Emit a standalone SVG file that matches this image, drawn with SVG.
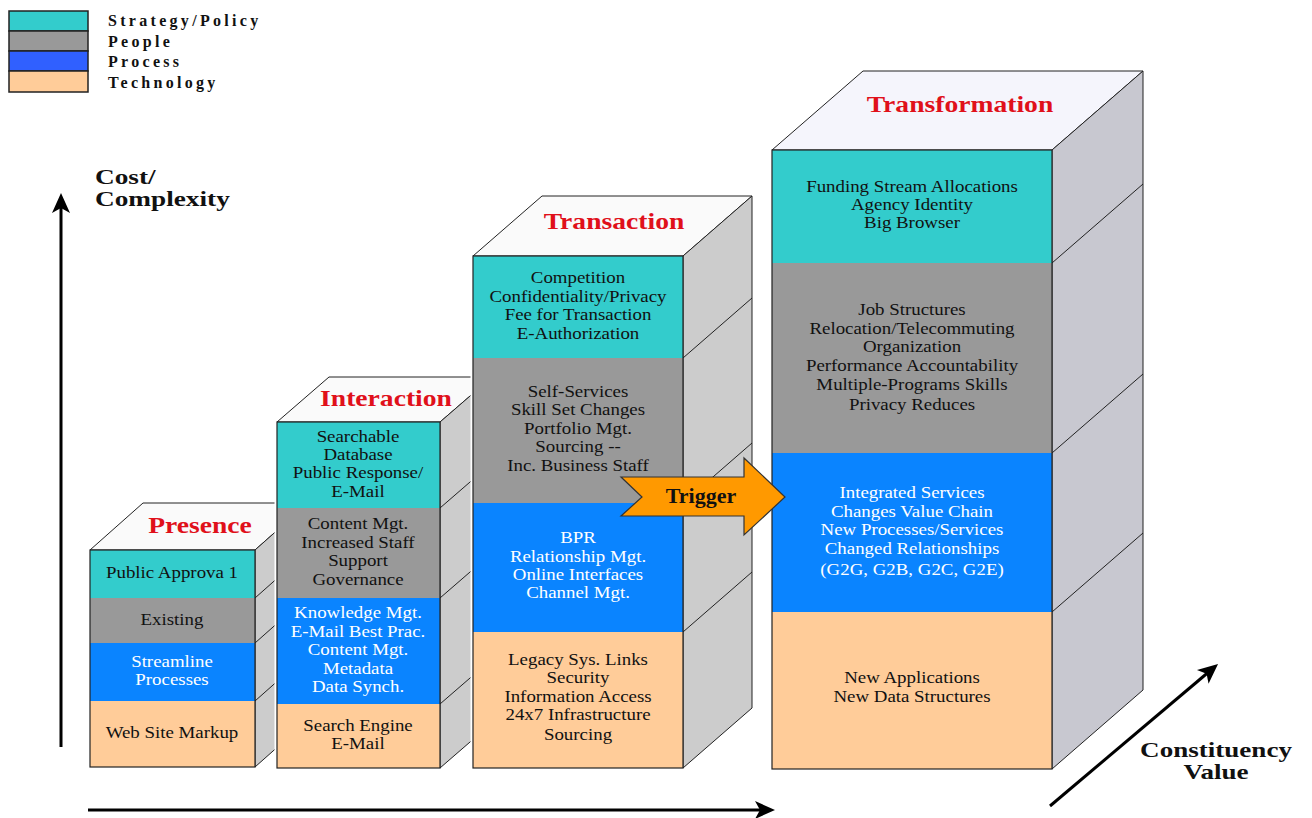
<svg xmlns="http://www.w3.org/2000/svg" width="1312" height="818" viewBox="0 0 1312 818">
  <defs>
    <style>
      .st { fill: #33CCCC; }
      .pe { fill: #999999; }
      .pr { fill: #0A84FF; }
      .te { fill: #FFCC99; }
      .gap { fill: #FFFFFF; }
      .top { fill: #FAFAFA; stroke: #222; stroke-width: 1; stroke-linejoin: round; }
      .top2 { fill: #F5F5FC; stroke: #222; stroke-width: 1; stroke-linejoin: round; }
      .side { fill: #CCCCCC; stroke: #222; stroke-width: 1; stroke-linejoin: round; }
      .side2 { fill: #C8C8D0; stroke: #222; stroke-width: 1; stroke-linejoin: round; }
      .seam { stroke: #222; stroke-width: 1; fill: none; }
      .frame { fill: none; stroke: #222; stroke-width: 1.2; }
      .t { font-family: "Liberation Serif", "Times New Roman", serif; font-size: 16px; text-anchor: middle; fill: #111; }
      .tw { fill: #FFFFFF; }
      .title { font-family: "Liberation Serif", "Times New Roman", serif; font-size: 24px; font-weight: bold; text-anchor: middle; fill: #E0101A; }
      .axis-label { font-family: "Liberation Serif", "Times New Roman", serif; font-size: 22px; font-weight: bold; fill: #111; }
      .legend-label { font-family: "Liberation Serif", "Times New Roman", serif; font-size: 16px; font-weight: bold; letter-spacing: 3.3px; fill: #111; }
      .legend-box { stroke: #222; stroke-width: 1.5; }
      .axis { stroke: #000; stroke-width: 3; fill: none; }
    </style>
    <marker id="head" viewBox="0 0 20 20" refX="10" refY="10" markerWidth="20" markerHeight="20" markerUnits="userSpaceOnUse" orient="auto">
      <path d="M0,1 L20,10 L0,19 L5,10 z" fill="#000"/>
    </marker>
  </defs>

  <rect width="1312" height="818" fill="#FFFFFF"/>

  <!-- Legend -->
  <g id="legend">
    <rect class="st legend-box" x="9" y="11" width="79" height="20"/>
    <rect class="pe legend-box" x="9" y="31" width="79" height="20"/>
    <rect class="legend-box" x="9" y="51" width="79" height="20" fill="#3060FF"/>
    <rect class="te legend-box" x="9" y="71" width="79" height="21"/>
    <text class="legend-label" x="108" y="26">Strategy/Policy</text>
    <text class="legend-label" x="108" y="47">People</text>
    <text class="legend-label" x="108" y="67">Process</text>
    <text class="legend-label" x="108" y="88">Technology</text>
  </g>

  <!-- Axes -->
  <g id="connectors">
    <line class="axis" x1="61" y1="747" x2="61" y2="203" marker-end="url(#head)"/>
    <line class="axis" x1="88" y1="810" x2="765" y2="810" marker-end="url(#head)"/>
    <line class="axis" x1="1050" y1="806" x2="1210.4" y2="670.5" marker-end="url(#head)"/>
  </g>

  <g id="axis-labels">
    <text class="axis-label" transform="translate(95 0) scale(1.24 1)"><tspan x="0" y="184">Cost/</tspan><tspan x="0" y="206">Complexity</tspan></text>
    <text class="axis-label" text-anchor="middle" transform="translate(1216 0) scale(1.23 1)"><tspan x="0" y="757">Constituency</tspan><tspan x="0" y="779">Value</tspan></text>
  </g>

  <!-- Stage 1: Presence -->
  <g id="presence">
    <polygon class="top" points="90,550 143,503 308,503 255,550"/>
    <polygon class="side" points="255,550 308,503 308,720 255,767"/>
    <line class="seam" x1="255" y1="598" x2="308" y2="551"/>
    <line class="seam" x1="255" y1="643" x2="308" y2="596"/>
    <line class="seam" x1="255" y1="701" x2="308" y2="654"/>
    <rect class="st" x="90" y="550" width="165" height="48"/>
    <rect class="pe" x="90" y="598" width="165" height="45"/>
    <rect class="pr" x="90" y="643" width="165" height="58"/>
    <rect class="te" x="90" y="701" width="165" height="66"/>
    <rect class="frame" x="90" y="550" width="165" height="217"/>
    <text class="title" transform="translate(200 0) scale(1.15 1)" x="0" y="533">Presence</text>
    <text class="t" transform="translate(172 0) scale(1.18 1)" x="0" y="578">Public Approva 1</text>
    <text class="t" transform="translate(172 0) scale(1.18 1)" x="0" y="625">Existing</text>
    <text class="t tw" transform="translate(172 0) scale(1.18 1)"><tspan x="0" y="667">Streamline</tspan><tspan x="0" y="685">Processes</tspan></text>
    <text class="t" transform="translate(172 0) scale(1.18 1)" x="0" y="738">Web Site Markup</text>
  </g>

  <!-- Stage 2: Interaction -->
  <g id="interaction">
    <rect class="gap" x="274.5" y="420" width="4" height="350"/>
    <polygon class="top" points="277,422 329,377 492,377 440,422"/>
    <polygon class="side" points="440,422 492,377 492,723 440,768"/>
    <line class="seam" x1="440" y1="508" x2="492" y2="463"/>
    <line class="seam" x1="440" y1="598" x2="492" y2="553"/>
    <line class="seam" x1="440" y1="704" x2="492" y2="659"/>
    <rect class="st" x="277" y="422" width="163" height="86"/>
    <rect class="pe" x="277" y="508" width="163" height="90"/>
    <rect class="pr" x="277" y="598" width="163" height="106"/>
    <rect class="te" x="277" y="704" width="163" height="64"/>
    <rect class="frame" x="277" y="422" width="163" height="346"/>
    <text class="title" transform="translate(386 0) scale(1.15 1)" x="0" y="406">Interaction</text>
    <text class="t" transform="translate(358 0) scale(1.18 1)"><tspan x="0" y="442">Searchable</tspan><tspan x="0" y="460">Database</tspan><tspan x="0" y="478">Public Response/</tspan><tspan x="0" y="497">E-Mail</tspan></text>
    <text class="t" transform="translate(358 0) scale(1.18 1)"><tspan x="0" y="529">Content Mgt.</tspan><tspan x="0" y="548">Increased Staff</tspan><tspan x="0" y="566">Support</tspan><tspan x="0" y="585">Governance</tspan></text>
    <text class="t tw" transform="translate(358 0) scale(1.18 1)"><tspan x="0" y="618">Knowledge Mgt.</tspan><tspan x="0" y="637">E-Mail Best Prac.</tspan><tspan x="0" y="655">Content Mgt.</tspan><tspan x="0" y="674">Metadata</tspan><tspan x="0" y="692">Data Synch.</tspan></text>
    <text class="t" transform="translate(358 0) scale(1.18 1)"><tspan x="0" y="731">Search Engine</tspan><tspan x="0" y="749">E-Mail</tspan></text>
  </g>

  <!-- Stage 3: Transaction -->
  <g id="transaction">
    <rect class="gap" x="470.5" y="254" width="4" height="516"/>
    <polygon class="top" points="473,256 542,196 752,196 683,256"/>
    <polygon class="side" points="683,256 752,196 752,708 683,768"/>
    <line class="seam" x1="683" y1="358" x2="752" y2="298"/>
    <line class="seam" x1="683" y1="503" x2="752" y2="443"/>
    <line class="seam" x1="683" y1="632" x2="752" y2="572"/>
    <rect class="st" x="473" y="256" width="210" height="102"/>
    <rect class="pe" x="473" y="358" width="210" height="145"/>
    <rect class="pr" x="473" y="503" width="210" height="129"/>
    <rect class="te" x="473" y="632" width="210" height="136"/>
    <rect class="frame" x="473" y="256" width="210" height="512"/>
    <text class="title" transform="translate(614 0) scale(1.15 1)" x="0" y="229">Transaction</text>
    <text class="t" transform="translate(578 0) scale(1.18 1)"><tspan x="0" y="283">Competition</tspan><tspan x="0" y="302">Confidentiality/Privacy</tspan><tspan x="0" y="320">Fee for Transaction</tspan><tspan x="0" y="339">E-Authorization</tspan></text>
    <text class="t" transform="translate(578 0) scale(1.18 1)"><tspan x="0" y="397">Self-Services</tspan><tspan x="0" y="415">Skill Set Changes</tspan><tspan x="0" y="434">Portfolio Mgt.</tspan><tspan x="0" y="452">Sourcing --</tspan><tspan x="0" y="471">Inc. Business Staff</tspan></text>
    <text class="t tw" transform="translate(578 0) scale(1.18 1)"><tspan x="0" y="543">BPR</tspan><tspan x="0" y="562">Relationship Mgt.</tspan><tspan x="0" y="580">Online Interfaces</tspan><tspan x="0" y="598">Channel Mgt.</tspan></text>
    <text class="t" transform="translate(578 0) scale(1.18 1)"><tspan x="0" y="665">Legacy Sys. Links</tspan><tspan x="0" y="683">Security</tspan><tspan x="0" y="702">Information Access</tspan><tspan x="0" y="720">24x7 Infrastructure</tspan><tspan x="0" y="740">Sourcing</tspan></text>
  </g>

  <!-- Stage 4: Transformation -->
  <g id="transformation">
    <polygon class="top2" points="772,150 863,71 1143,71 1052,150"/>
    <polygon class="side2" points="1052,150 1143,71 1143,690 1052,769"/>
    <line class="seam" x1="1052" y1="263" x2="1143" y2="184"/>
    <line class="seam" x1="1052" y1="453" x2="1143" y2="374"/>
    <line class="seam" x1="1052" y1="612" x2="1143" y2="533"/>
    <rect class="st" x="772" y="150" width="280" height="113"/>
    <rect class="pe" x="772" y="263" width="280" height="190"/>
    <rect class="pr" x="772" y="453" width="280" height="159"/>
    <rect class="te" x="772" y="612" width="280" height="157"/>
    <rect class="frame" x="772" y="150" width="280" height="619"/>
    <text class="title" transform="translate(960 0) scale(1.15 1)" x="0" y="112">Transformation</text>
    <text class="t" transform="translate(912 0) scale(1.18 1)"><tspan x="0" y="192">Funding Stream Allocations</tspan><tspan x="0" y="210">Agency Identity</tspan><tspan x="0" y="228">Big Browser</tspan></text>
    <text class="t" transform="translate(912 0) scale(1.18 1)"><tspan x="0" y="315">Job Structures</tspan><tspan x="0" y="334">Relocation/Telecommuting</tspan><tspan x="0" y="352">Organization</tspan><tspan x="0" y="371">Performance Accountability</tspan><tspan x="0" y="390">Multiple-Programs Skills</tspan><tspan x="0" y="410">Privacy Reduces</tspan></text>
    <text class="t tw" transform="translate(912 0) scale(1.18 1)"><tspan x="0" y="498">Integrated Services</tspan><tspan x="0" y="517">Changes Value Chain</tspan><tspan x="0" y="535">New Processes/Services</tspan><tspan x="0" y="554">Changed Relationships</tspan><tspan x="0" y="575">(G2G, G2B, G2C, G2E)</tspan></text>
    <text class="t" transform="translate(912 0) scale(1.18 1)"><tspan x="0" y="683">New Applications</tspan><tspan x="0" y="702">New Data Structures</tspan></text>
  </g>

  <!-- Trigger arrow between Transaction and Transformation -->
  <g id="trigger">
    <polygon points="621,477 744,477 744,458 785,497 744,535 744,516 621,516 642,497" fill="#FF9900" stroke="#333" stroke-width="1.2" stroke-linejoin="miter"/>
    <text x="701" y="503" text-anchor="middle" font-family="'Liberation Serif', 'Times New Roman', serif" font-size="22" font-weight="bold" fill="#111">Trigger</text>
  </g>
</svg>
